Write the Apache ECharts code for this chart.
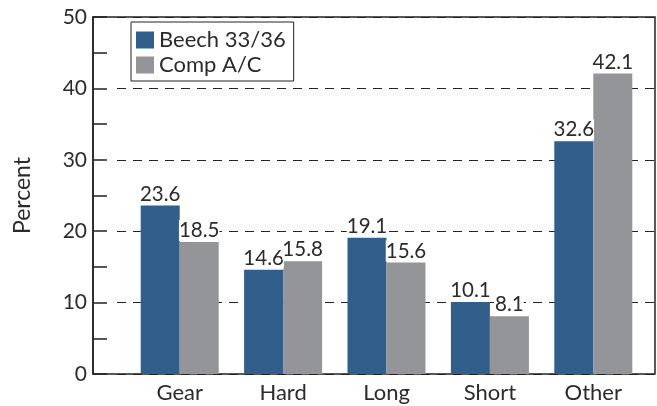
<!DOCTYPE html>
<html>
<head>
<meta charset="utf-8">
<script src="https://cdn.jsdelivr.net/npm/echarts@6/dist/echarts.min.js"></script>
<style>
html, body { margin: 0; padding: 0; background: #fff; }
#main { width: 657px; height: 406px; }
</style>
</head>
<body>
<div id="main"></div>
<script>
// data
var categories = ['Gear', 'Hard', 'Long', 'Short', 'Other'];
var beech = [23.6, 14.6, 19.1, 10.1, 32.6];
var comp = [18.5, 15.8, 15.6, 8.1, 42.1];
var seriesNames = ['Beech 33/36', 'Comp A/C'];

var font = 'Lato, "Open Sans", sans-serif';
var textColor = '#2b2b2b';

var myChart = echarts.init(document.getElementById('main'), null, { renderer: 'canvas' });

// label above each bar, white behind so the dashes stop at the text
var barLabel = {
    show: true,
    position: 'top',
    distance: 1,
    fontFamily: font,
    fontSize: 20.5,
    color: textColor,
    backgroundColor: '#fff',
    padding: 0
};

var option = {
    animation: false,
    textStyle: { fontFamily: font },
    legend: {
        orient: 'vertical',
        left: 131,
        top: 22,
        data: seriesNames,
        itemWidth: 18,
        itemHeight: 17,
        itemGap: 1,
        padding: [6, 8, 4, 5],
        borderColor: '#222',
        borderWidth: 1,
        borderRadius: 0,
        backgroundColor: '#fff',
        icon: 'rect',
        textStyle: { fontFamily: font, fontSize: 22, color: textColor, lineHeight: 24 },
        z: 10
    },
    grid: [
        // frame + y axis
        { left: 93, right: 2, top: 17, bottom: 32, show: true, borderColor: '#222', borderWidth: 1.5, containLabel: false },
        // dashed guide lines
        { left: 117, right: 2, top: 17, bottom: 32 },
        // bars
        { left: 128, right: 12, top: 17, bottom: 32 }
    ],
    xAxis: [
        { gridIndex: 0, type: 'value', min: 0, max: 1, show: false },
        { gridIndex: 1, type: 'value', min: 0, max: 1, show: false },
        {
            gridIndex: 2,
            type: 'category',
            data: categories,
            axisLine: { show: false },
            axisTick: { show: false },
            axisLabel: { fontFamily: font, fontSize: 22, color: textColor, margin: 8 }
        }
    ],
    yAxis: [
        {
            gridIndex: 0,
            type: 'value',
            min: 0,
            max: 50,
            interval: 10,
            name: 'Percent',
            nameLocation: 'middle',
            nameRotate: 90,
            nameGap: 59,
            nameTextStyle: { fontFamily: font, fontSize: 23, color: textColor },
            axisLine: { show: true, lineStyle: { color: '#222', width: 1.5 } },
            axisTick: { show: true, inside: true, length: 14, lineStyle: { color: '#222', width: 1.5 } },
            minorTick: { show: true, splitNumber: 2, length: 14, lineStyle: { color: '#222', width: 1.5 } },
            axisLabel: { fontFamily: font, fontSize: 21, color: textColor, margin: 6 },
            splitLine: { show: false }
        },
        {
            gridIndex: 1,
            type: 'value',
            min: 0,
            max: 50,
            interval: 10,
            axisLine: { show: false },
            axisTick: { show: false },
            axisLabel: { show: false },
            splitLine: { show: true, lineStyle: { color: '#222', width: 1.2, type: [9, 7] } }
        },
        { gridIndex: 2, type: 'value', min: 0, max: 50, show: false }
    ],
    series: [
        {
            name: seriesNames[0],
            type: 'bar',
            xAxisIndex: 2,
            yAxisIndex: 2,
            data: beech,
            barWidth: 39,
            barGap: '0%',
            itemStyle: { color: '#325e8b' },
            label: barLabel,
            z: 5
        },
        {
            name: seriesNames[1],
            type: 'bar',
            xAxisIndex: 2,
            yAxisIndex: 2,
            data: comp,
            barWidth: 39,
            barGap: '0%',
            itemStyle: { color: '#939598' },
            label: barLabel,
            z: 5
        }
    ]
};

myChart.setOption(option);
</script>
</body>
</html>
